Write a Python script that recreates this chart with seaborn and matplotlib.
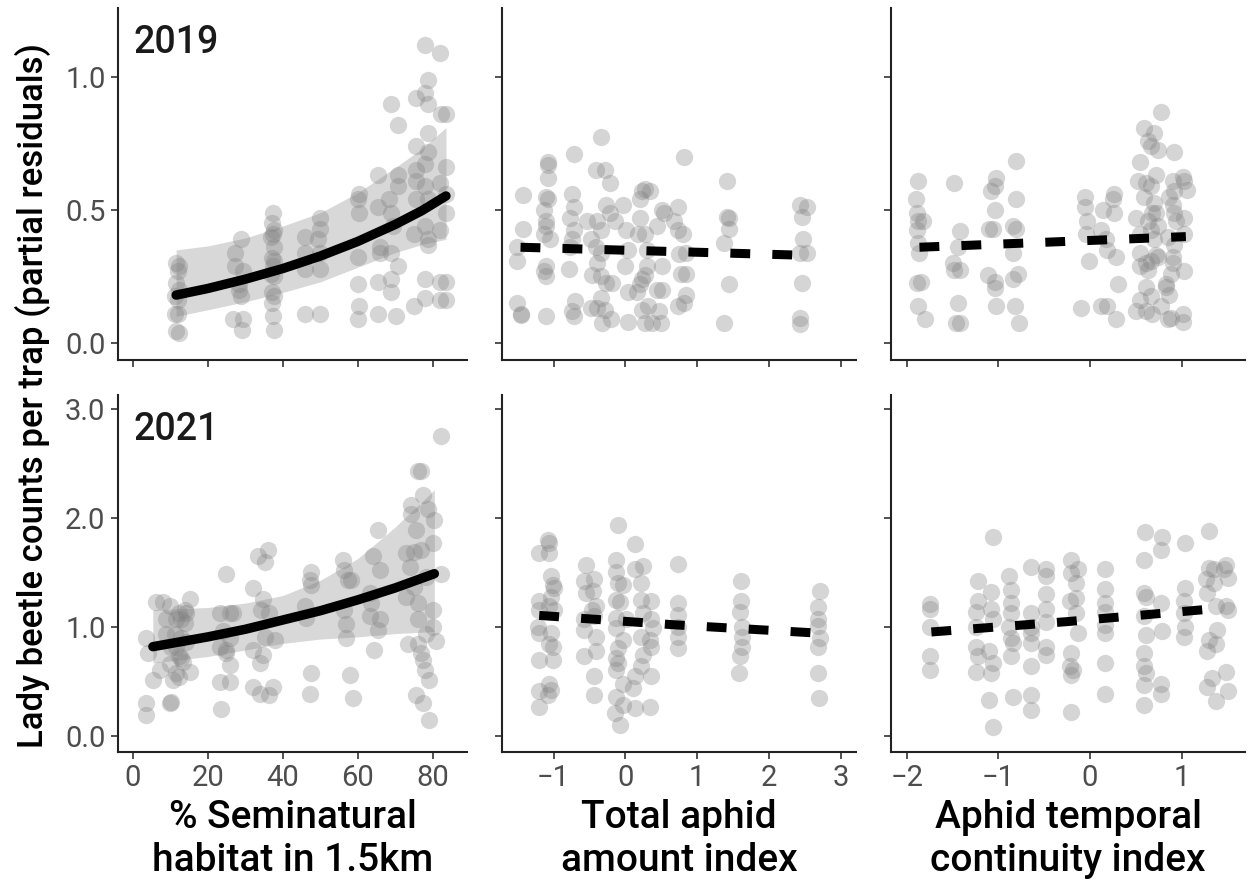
import numpy as np
import pandas as pd
import seaborn as sns
import matplotlib.pyplot as plt
from matplotlib.ticker import FixedLocator, FormatStrFormatter

# ---- data ----
# 2019, % seminatural habitat
semi19_x = [11.6, 12.4, 12.0, 11.6, 12.4, 11.1, 12.0, 11.1, 12.0, 11.6, 12.4,
            28.9, 27.1, 27.1, 29.3, 28.4, 28.4, 28.9, 26.7, 29.3, 29.2,
            37.3, 37.0, 37.6, 37.3, 36.9, 37.5, 37.1, 37.6, 37.3, 36.9, 37.5, 37.2, 37.5, 37.0, 37.3, 37.6,
            45.8, 49.8, 49.8, 49.3, 45.8, 49.8, 45.8, 49.8, 45.8, 49.8,
            60.4, 60.0, 60.4, 60.0, 60.0, 60.4, 60.0,
            65.3, 65.3, 68.4, 70.7, 70.7, 68.9, 65.8, 65.8, 68.9, 70.7, 65.3, 68.9, 68.9, 65.3, 70.2, 68.9, 70.7, 69.3,
            77.8, 78.7, 75.6, 77.8, 78.7, 75.6, 78.7, 78.7, 75.6, 77.8, 75.6, 77.8, 75.6, 78.7, 75.1, 77.8, 78.7, 78.7,
            77.8, 77.8, 75.1,
            81.8, 83.6, 82.2, 83.6, 83.6, 81.8, 83.6, 81.8, 83.6, 81.8, 83.6, 81.8]
semi19_y = [0.30, 0.29, 0.27, 0.225, 0.20, 0.175, 0.16, 0.11, 0.11, 0.044, 0.038,
            0.39, 0.34, 0.29, 0.27, 0.22, 0.20, 0.175, 0.09, 0.09, 0.05,
            0.49, 0.45, 0.425, 0.41, 0.40, 0.36, 0.32, 0.31, 0.29, 0.26, 0.25, 0.19, 0.175, 0.15, 0.10, 0.05,
            0.40, 0.47, 0.43, 0.39, 0.34, 0.34, 0.28, 0.28, 0.11, 0.11,
            0.56, 0.54, 0.49, 0.325, 0.22, 0.14, 0.09,
            0.63, 0.51, 0.54, 0.63, 0.59, 0.49, 0.36, 0.34, 0.34, 0.29, 0.23, 0.24, 0.19, 0.11, 0.10, 0.90, 0.82, 0.44,
            1.12, 0.99, 0.92, 0.94, 0.90, 0.74, 0.79, 0.72, 0.65, 0.675, 0.61, 0.59, 0.54, 0.54, 0.41, 0.44, 0.39, 0.37,
            0.24, 0.17, 0.14,
            1.09, 0.86, 0.86, 0.66, 0.56, 0.60, 0.49, 0.425, 0.23, 0.23, 0.16, 0.16]

# 2019, total aphid amount index
amt19_x = [-1.43, -1.43, -1.51, -1.51, -1.51, -1.46, -1.46,
           -1.08, -1.08, -1.08, -1.10, -1.08, -1.13, -1.10, -1.10, -1.13, -1.05, -1.10, -1.13, -1.10, -1.10,
           -0.72, -0.75, -0.72, -0.77, -0.72, -0.75, -0.77, -0.79, -0.70, -0.75, -0.72,
           -0.34, -0.41, -0.29, -0.22, -0.27, -0.22, -0.53, -0.39, -0.34, -0.15, -0.48, -0.41, -0.34, -0.39,
           -0.46, -0.34, -0.27, -0.18, -0.34, -0.48, -0.39, -0.29, -0.32, -0.20,
           -0.03, 0.01, 0.18, 0.04, -0.01, 0.04, 0.23, 0.28, 0.35, 0.20, 0.20, 0.28, 0.30, 0.30, 0.28, 0.23,
           0.20, 0.16, 0.23, 0.32, 0.04, 0.28, 0.37,
           0.51, 0.54, 0.44, 0.51, 0.44, 0.51, 0.47, 0.49,
           0.73, 0.68, 0.73, 0.82, 0.80, 0.85, 0.75, 0.85, 0.77, 0.85, 0.82, 0.73,
           1.42, 1.42, 1.44, 1.44, 1.37, 1.44, 1.37,
           2.44, 2.53, 2.46, 2.48, 2.53, 2.44, 2.46, 2.44, 2.44]
amt19_y = [0.556, 0.43, 0.36, 0.31, 0.15, 0.106, 0.11,
           0.68, 0.67, 0.62, 0.55, 0.54, 0.50, 0.46, 0.44, 0.41, 0.39, 0.29, 0.27, 0.25, 0.10,
           0.71, 0.56, 0.51, 0.47, 0.425, 0.39, 0.36, 0.28, 0.156, 0.12, 0.10,
           0.775, 0.65, 0.65, 0.60, 0.52, 0.49, 0.46, 0.46, 0.425, 0.46, 0.39, 0.36, 0.34, 0.30,
           0.256, 0.25, 0.225, 0.225, 0.17, 0.13, 0.13, 0.125, 0.075, 0.09,
           0.52, 0.425, 0.41, 0.35, 0.29, 0.19, 0.57, 0.58, 0.57, 0.54, 0.47, 0.41, 0.35, 0.29, 0.256, 0.24,
           0.22, 0.19, 0.125, 0.14, 0.08, 0.075, 0.075,
           0.50, 0.49, 0.44, 0.29, 0.20, 0.20, 0.12, 0.075,
           0.51, 0.46, 0.425, 0.70, 0.41, 0.34, 0.335, 0.26, 0.26, 0.18, 0.15, 0.14,
           0.61, 0.475, 0.47, 0.43, 0.375, 0.22, 0.075,
           0.52, 0.51, 0.475, 0.39, 0.34, 0.34, 0.225, 0.094, 0.07]

# 2019, aphid temporal continuity index
cont19_x = [-1.88, -1.90, -1.89, -1.88, -1.89, -1.88, -1.86, -1.82, -1.89, -1.84, -1.88, -1.80,
            -1.48, -1.42, -1.44, -1.49, -1.48, -1.42, -1.44, -1.46, -1.42,
            -1.02, -1.04, -1.08, -1.04, -1.10, -1.06, -1.11, -1.04, -1.04, -1.02,
            -0.81, -0.81, -0.84, -0.81, -0.84, -0.79, -0.84, -0.82, -0.77,
            -0.05, -0.05, -0.03, -0.04, -0.01, -0.10,
            0.14, 0.12, 0.17, 0.19, 0.26, 0.25, 0.26, 0.28, 0.30, 0.12, 0.19, 0.28,
            0.77, 0.59, 0.70, 0.63, 0.66, 0.74, 0.55, 0.72, 0.52, 0.61, 0.66, 0.59, 0.70, 0.68, 0.72, 0.50,
            0.63, 0.66, 0.74, 0.54, 0.70, 0.54, 0.72, 0.66, 0.61, 0.54, 0.63, 0.74, 0.61, 0.66, 0.54, 0.50,
            0.61, 0.68, 0.77, 0.83,
            0.92, 1.01, 1.03, 0.90, 1.06, 0.86, 0.92, 0.90, 0.92, 1.03, 0.94, 0.85, 1.03, 0.92, 0.90, 0.90,
            1.03, 0.88, 0.83, 0.86, 0.88, 1.01, 1.01, 0.85]
cont19_y = [0.61, 0.54, 0.49, 0.46, 0.425, 0.375, 0.34, 0.46, 0.225, 0.23, 0.14, 0.09,
            0.60, 0.42, 0.36, 0.30, 0.275, 0.275, 0.15, 0.075, 0.075,
            0.62, 0.59, 0.57, 0.50, 0.43, 0.43, 0.256, 0.23, 0.206, 0.14,
            0.685, 0.54, 0.44, 0.43, 0.34, 0.26, 0.24, 0.14, 0.075,
            0.55, 0.51, 0.46, 0.41, 0.31, 0.13,
            0.50, 0.425, 0.39, 0.35, 0.56, 0.54, 0.49, 0.325, 0.22, 0.14, 0.14, 0.09,
            0.87, 0.81, 0.79, 0.76, 0.74, 0.725, 0.68, 0.63, 0.61, 0.60, 0.59, 0.55, 0.525, 0.49, 0.49, 0.47,
            0.46, 0.425, 0.44, 0.41, 0.39, 0.34, 0.33, 0.31, 0.30, 0.29, 0.275, 0.325, 0.21, 0.175, 0.16, 0.12,
            0.12, 0.11, 0.14, 0.21,
            0.72, 0.625, 0.61, 0.61, 0.575, 0.55, 0.57, 0.52, 0.49, 0.47, 0.46, 0.40, 0.41, 0.37, 0.325, 0.30,
            0.27, 0.26, 0.22, 0.18, 0.094, 0.11, 0.08, 0.09]

# 2021, % seminatural habitat
semi21_x = [3.6, 4.0, 3.6, 3.6, 5.3, 6.2, 8.0, 7.1,
            9.8, 10.2, 10.7, 11.6, 12.4, 15.1, 12.4, 11.6, 12.9, 13.8, 12.9, 14.2, 15.1, 9.8, 8.9, 13.3,
            12.9, 8.9, 10.2, 13.8, 11.6, 12.4, 11.1, 14.2, 9.8,
            24.9, 23.1, 25.8, 26.7, 24.0, 25.8, 24.9, 23.1, 25.8, 23.1, 25.8, 23.6, 24.9,
            32.0, 33.3, 35.1, 36.0, 34.7, 34.2, 36.4, 35.1, 37.8, 32.0, 34.7, 33.8, 32.0, 33.8, 36.4, 37.3,
            47.6, 47.1, 47.6, 45.8, 46.2, 47.6, 47.1,
            56.0, 56.4, 57.3, 58.2, 56.4, 56.9, 56.9, 57.8, 58.7,
            65.3, 64.0, 65.8, 63.1, 63.6, 63.1, 65.8, 65.3, 64.4,
            76.0, 76.9, 77.3, 74.2, 78.7, 74.2, 80.4, 75.6, 80.0, 72.9, 75.1, 76.9, 73.8, 78.2, 75.1, 72.9,
            76.0, 80.0, 80.0, 76.0, 78.2, 73.3, 76.0, 76.9, 77.3, 77.8, 79.1, 75.6, 77.3, 79.1, 80.9,
            82.2, 82.2]
semi21_y = [0.90, 0.76, 0.30, 0.19, 0.51, 1.23, 1.23, 0.61,
            0.30, 0.31, 0.51, 0.58, 0.54, 0.59, 0.73, 0.82, 0.90, 1.04, 1.07, 1.13, 1.26, 1.19, 1.07, 0.68,
            0.72, 0.94, 0.82, 1.16, 1.07, 1.13, 0.94, 0.86, 0.66,
            1.49, 1.13, 1.13, 1.13, 0.96, 0.90, 0.79, 0.82, 0.65, 0.50, 0.50, 0.25, 0.76,
            1.36, 1.65, 1.60, 1.71, 1.26, 1.16, 1.13, 0.91, 0.88, 0.79, 0.74, 0.67, 0.45, 0.39, 0.38, 0.45,
            1.51, 1.43, 1.39, 1.19, 1.08, 0.58, 0.39,
            1.62, 1.52, 1.43, 1.43, 1.16, 1.03, 0.90, 0.56, 0.35,
            1.89, 1.65, 1.52, 1.31, 1.22, 1.10, 1.07, 0.97, 0.79,
            2.43, 2.43, 2.21, 2.12, 2.08, 2.04, 1.98, 1.89, 1.77, 1.68, 1.69, 1.71, 1.55, 1.46, 1.37, 1.28,
            1.22, 1.16, 1.00, 1.07, 0.94, 0.84, 0.84, 0.76, 0.70, 0.61, 0.51, 0.38, 0.30, 0.15, 0.87,
            2.75, 1.49]

# 2021, total aphid amount index
amt21_x = [-1.20, -1.20, -1.20, -1.22, -1.20, -1.20, -1.20, -1.20,
           -1.08, -1.06, -1.06, -1.03, -1.01, -0.99, -1.03, -1.06, -0.99, -1.03, -1.06, -1.01, -1.01, -1.06,
           -1.03, -1.08,
           -0.55, -0.57, -0.55, -0.43, -0.45, -0.41, -0.47, -0.57, -0.43, -0.57, -0.41, -0.41, -0.57, -0.43,
           -0.43,
           -0.10, 0.13, -0.13, -0.13, -0.10, -0.03, -0.13, -0.08, -0.13, 0.01, -0.13, -0.03, -0.10, -0.13,
           -0.10, -0.13, -0.03, -0.13, -0.03, -0.15, -0.08,
           0.13, 0.25, 0.22, 0.22, 0.36, 0.25, 0.36, 0.39, 0.22, 0.34, 0.36, 0.25, 0.22, 0.36, 0.13, 0.11,
           0.13, 0.34,
           0.74, 0.74, 0.74, 0.74, 0.74, 0.74,
           1.61, 1.61, 1.60, 1.62, 1.62, 1.62, 1.60, 1.59,
           2.71, 2.68, 2.68, 2.69, 2.71, 2.69, 2.69, 2.70]
amt21_y = [1.68, 1.24, 1.16, 1.00, 0.945, 0.70, 0.41, 0.27,
           1.80, 1.77, 1.68, 1.47, 1.39, 1.36, 1.28, 1.19, 1.16, 0.945, 0.84, 0.82, 0.70, 0.48,
           0.42, 0.38,
           1.57, 1.42, 1.31, 1.44, 1.33, 1.19, 1.16, 1.07, 1.10, 0.975, 0.91, 0.78, 0.73, 0.55,
           0.38,
           1.94, 1.76, 1.62, 1.51, 1.40, 1.39, 1.25, 1.23, 1.08, 1.07, 0.99, 0.88, 0.81, 0.715,
           0.67, 0.61, 0.48, 0.36, 0.285, 0.21, 0.10,
           1.53, 1.56, 1.40, 1.25, 1.24, 1.13, 1.07, 0.99, 0.91, 0.88, 0.82, 0.745, 0.64, 0.55, 0.55, 0.44,
           0.255, 0.27,
           1.58, 1.22, 1.11, 1.00, 0.91, 0.81,
           1.42, 1.24, 1.14, 1.00, 0.91, 0.82, 0.73, 0.58,
           1.33, 1.18, 1.07, 1.01, 0.90, 0.82, 0.58, 0.35]

# 2021, aphid temporal continuity index
cont21_x = [-1.75, -1.75, -1.75, -1.75, -1.75,
            -1.22, -1.22, -1.24, -1.24, -1.24, -1.22, -1.24,
            -1.06, -1.08, -1.08, -1.06, -1.10, -1.06, -1.08, -1.10, -1.06,
            -0.88, -0.86, -0.86, -0.86, -0.88, -0.86, -0.84, -0.86, -0.84,
            -0.64, -0.64, -0.64, -0.64, -0.64, -0.64, -0.64, -0.64,
            -0.48, -0.48, -0.48, -0.48, -0.48, -0.48, -0.48,
            -0.21, -0.21, -0.13, -0.15, -0.15, -0.22, -0.15, -0.13, -0.21, -0.22, -0.19, -0.21, -0.21,
            0.16, 0.16, 0.16, 0.16, 0.16, 0.16, 0.16, 0.16,
            0.60, 0.59, 0.59, 0.61, 0.59, 0.61, 0.59, 0.59, 0.61, 0.59, 0.59,
            0.79, 0.77, 0.77, 0.79, 0.77, 0.77,
            1.04, 1.04, 1.03, 1.03, 1.04, 1.03,
            1.30, 1.30, 1.26, 1.28, 1.35, 1.35, 1.48, 1.50, 1.46, 1.37, 1.48, 1.50, 1.39, 1.30, 1.37, 1.28,
            1.48, 1.33, 1.28, 1.50, 1.37]
cont21_y = [1.21, 1.17, 1.00, 0.73, 0.61,
            1.42, 1.24, 1.14, 1.00, 0.82, 0.73, 0.59,
            1.83, 1.32, 1.17, 1.07, 0.78, 0.67, 0.58, 0.33, 0.086,
            1.47, 1.34, 1.22, 1.13, 1.00, 0.90, 0.85, 0.73, 0.36,
            1.55, 1.13, 1.00, 0.945, 0.85, 0.64, 0.38, 0.24,
            1.53, 1.47, 1.30, 1.17, 1.05, 0.82, 0.745,
            1.62, 1.50, 1.53, 1.40, 1.27, 1.24, 1.13, 0.945, 0.76, 0.64, 0.61, 0.56, 0.22,
            1.53, 1.35, 1.22, 1.14, 1.02, 0.945, 0.67, 0.39,
            1.87, 1.62, 1.31, 1.28, 1.10, 0.93, 0.76, 0.64, 0.58, 0.47, 0.285,
            1.83, 1.71, 1.22, 0.96, 0.48, 0.39,
            1.77, 1.36, 1.24, 1.13, 1.00, 0.91,
            1.88, 1.54, 1.44, 1.31, 1.53, 1.40, 1.57, 1.45, 1.53, 1.19, 1.19, 1.16, 0.975, 0.88, 0.84, 0.78,
            0.59, 0.53, 0.45, 0.41, 0.32]

# model fits and confidence bands
fit19_semi_x = [11.5, 20, 30, 40, 50, 60, 70, 77, 83.5]
fit19_semi_y = [0.18, 0.205, 0.24, 0.28, 0.327, 0.382, 0.446, 0.497, 0.553]
fit19_semi_lo = [0.10, 0.125, 0.155, 0.19, 0.23, 0.285, 0.34, 0.37, 0.39]
fit19_semi_hi = [0.35, 0.365, 0.395, 0.44, 0.49, 0.565, 0.66, 0.73, 0.81]

fit21_semi_x = [5.3, 20, 30, 40, 50, 60, 70, 80.4]
fit21_semi_y = [0.82, 0.91, 0.98, 1.065, 1.15, 1.25, 1.36, 1.49]
fit21_semi_lo = [0.67, 0.73, 0.79, 0.85, 0.89, 0.91, 0.94, 0.96]
fit21_semi_hi = [1.16, 1.18, 1.22, 1.29, 1.43, 1.63, 1.92, 2.26]

fit19_amt_x = [-1.46, 0.5, 2.46]
fit19_amt_y = [0.36, 0.345, 0.33]
fit19_cont_x = [-1.86, -0.4, 1.045]
fit19_cont_y = [0.36, 0.38, 0.40]
fit21_amt_x = [-1.2, 0.7, 2.67]
fit21_amt_y = [1.107, 1.02, 0.945]
fit21_cont_x = [-1.73, -0.25, 1.245]
fit21_cont_y = [0.955, 1.05, 1.16]

years = ['2019', '2021']
xlabels = ['% Seminatural\nhabitat in 1.5km', 'Total aphid\namount index',
           'Aphid temporal\ncontinuity index']
ylabel = 'Lady beetle counts per trap (partial residuals)'

points = [[(semi19_x, semi19_y), (amt19_x, amt19_y), (cont19_x, cont19_y)],
          [(semi21_x, semi21_y), (amt21_x, amt21_y), (cont21_x, cont21_y)]]
solid_fits = [(fit19_semi_x, fit19_semi_y, fit19_semi_lo, fit19_semi_hi),
              (fit21_semi_x, fit21_semi_y, fit21_semi_lo, fit21_semi_hi)]
dashed_fits = [[(fit19_amt_x, fit19_amt_y), (fit19_cont_x, fit19_cont_y)],
               [(fit21_amt_x, fit21_amt_y), (fit21_cont_x, fit21_cont_y)]]

# ---- plot ----
sns.set_theme(style='ticks')
plt.rcParams['font.family'] = ['Roboto', 'DejaVu Sans']

fig, axes = plt.subplots(2, 3, figsize=(12.48, 8.82), dpi=100, sharex='col', sharey='row',
                         gridspec_kw={'width_ratios': [349, 355, 354], 'height_ratios': [352, 357]})
fig.subplots_adjust(left=118/1248, right=1245/1248, top=1-8/882, bottom=1-752/882,
                    wspace=0.098, hspace=0.099)

pt_color = '#7f7f7f'
for r in range(2):
    for c in range(3):
        ax = axes[r, c]
        px, py = points[r][c]
        if c == 0:
            fx, fy, lo, hi = solid_fits[r]
            ax.fill_between(fx, lo, hi, color=pt_color, alpha=0.3, linewidth=0, zorder=1)
        sns.scatterplot(x=px, y=py, ax=ax, color=pt_color, alpha=0.32, s=155,
                        linewidth=0, zorder=2)
        if c == 0:
            sns.lineplot(x=fx, y=fy, ax=ax, color='black', linewidth=6.8, sort=False,
                         estimator=None, zorder=3)
        else:
            fx, fy = dashed_fits[r][c - 1]
            sns.lineplot(x=fx, y=fy, ax=ax, color='black', linewidth=6.5, sort=False,
                         estimator=None, linestyle=(0, (2.2, 2.45)), zorder=3)
        ax.set_xlabel('')
        ax.set_ylabel('')
        for s in ['top', 'right']:
            ax.spines[s].set_visible(False)
        for s in ['left', 'bottom']:
            ax.spines[s].set_linewidth(1.5)
            ax.spines[s].set_color('#222222')
        ax.tick_params(axis='both', length=5, width=1.2, color='#333333',
                       labelsize=21, labelcolor='#4D4D4D', pad=4)

# limits and ticks
xlims = [(-4, 89.1), (-1.725, 3.22), (-2.17, 1.69)]
xticks = [[0, 20, 40, 60, 80], [-1, 0, 1, 2, 3], [-2, -1, 0, 1]]
ylims = [(-0.064, 1.26), (-0.147, 3.13)]
yticks = [[0.0, 0.5, 1.0], [0.0, 1.0, 2.0, 3.0]]
for c in range(3):
    axes[1, c].set_xlim(xlims[c])
    axes[1, c].xaxis.set_major_locator(FixedLocator(xticks[c]))
    axes[1, c].set_xlabel(xlabels[c], fontsize=28, fontweight='medium', color='black',
                          labelpad=5, linespacing=1.2)
for r in range(2):
    axes[r, 0].set_ylim(ylims[r])
    axes[r, 0].yaxis.set_major_locator(FixedLocator(yticks[r]))
    axes[r, 0].yaxis.set_major_formatter(FormatStrFormatter('%.1f'))
    axes[r, 0].text(0.045, 0.955, years[r], transform=axes[r, 0].transAxes, ha='left', va='top',
                    fontsize=27, fontweight='medium', color='#1a1a1a')

fig.text(0.026, 0.552, ylabel, rotation=90, ha='center', va='center', fontsize=25,
         fontweight='medium', color='black')

plt.savefig('out.png', dpi=100)
